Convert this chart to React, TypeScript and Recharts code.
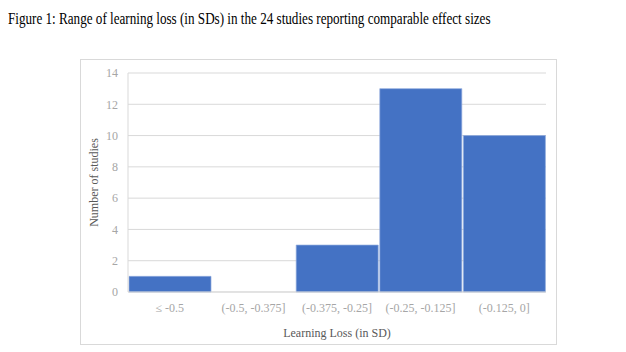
import { BarChart, Bar, XAxis, YAxis, CartesianGrid } from 'recharts';

// histogram bins and study counts
const bins = ['≤ -0.5', '(-0.5, -0.375]', '(-0.375, -0.25]', '(-0.25, -0.125]', '(-0.125, 0]'];
const studies = [1, 0, 3, 13, 10];
const yTicks = [0, 2, 4, 6, 8, 10, 12, 14];

const data = bins.map((bin, i) => ({ bin, studies: studies[i] }));

const SERIF = '"Liberation Serif", "Times New Roman", serif';
const TICK = { fill: '#A6A6A6', fontSize: 12, fontFamily: SERIF };
const AXIS_TITLE = { fill: '#595959', fontSize: 12, fontFamily: SERIF };

export default function App() {
  return (
    <div
      style={{
        position: 'absolute',
        left: 0,
        top: 0,
        width: 626,
        height: 352,
        background: '#fff',
        fontFamily: SERIF,
      }}
    >
      <div
        style={{
          position: 'absolute',
          left: 8,
          top: 9,
          fontSize: 16,
          lineHeight: '20px',
          color: '#000',
          whiteSpace: 'nowrap',
          transform: 'scaleX(0.82)',
          transformOrigin: 'left top',
        }}
      >
        Figure 1: Range of learning loss (in SDs) in the 24 studies reporting comparable effect sizes
      </div>
      <div
        style={{
          position: 'absolute',
          left: 80,
          top: 59,
          width: 475,
          height: 284,
          border: '1px solid #D9D9D9',
        }}
      />
      <div style={{ position: 'absolute', left: 0, top: 0 }}>
        <BarChart
          width={626}
          height={352}
          data={data}
          margin={{ top: 73, right: 80, bottom: 0, left: 88 }}
          barCategoryGap={1}
        >
          <CartesianGrid vertical={false} stroke="#D9D9D9" />
          <XAxis
            dataKey="bin"
            tick={TICK}
            tickLine={false}
            axisLine={{ stroke: '#D9D9D9' }}
            tickMargin={5}
            height={60}
            interval={0}
            label={{ value: 'Learning Loss (in SD)', position: 'insideBottom', offset: 15, style: AXIS_TITLE }}
          />
          <YAxis
            ticks={yTicks}
            domain={[0, 14]}
            tick={TICK}
            tickLine={false}
            axisLine={{ stroke: '#D9D9D9' }}
            tickMargin={4}
            width={40}
            label={{
              value: 'Number of studies',
              angle: -90,
              position: 'insideLeft',
              offset: 6,
              style: { ...AXIS_TITLE, textAnchor: 'middle' },
            }}
          />
          <Bar
            dataKey="studies"
            fill="#4472C4"
            stroke="#8FAADC"
            strokeWidth={0.7}
            isAnimationActive={false}
          />
        </BarChart>
      </div>
    </div>
  );
}
